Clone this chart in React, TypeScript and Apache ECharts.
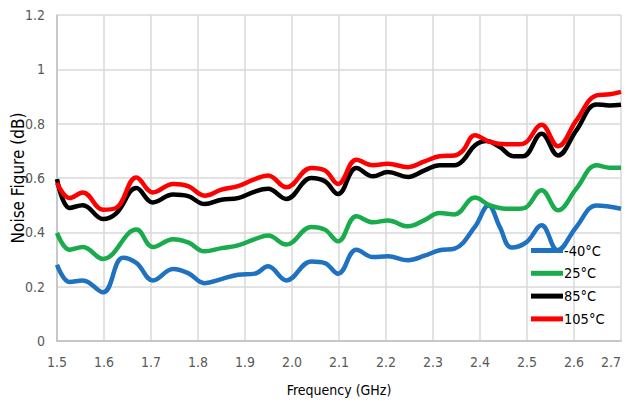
import React, { useEffect, useRef } from "react";
import * as echarts from "echarts";

const xTicks = [1.5, 1.6, 1.7, 1.8, 1.9, 2.0, 2.1, 2.2, 2.3, 2.4, 2.5, 2.6, 2.7];

const seriesNames = ["-40°C", "25°C", "85°C", "105°C"];
const seriesColors = ["#1f72c0", "#1aab4d", "#000000", "#ff0000"];

const freqM40 = [1.5, 1.527, 1.555, 1.598, 1.64, 1.669, 1.704, 1.747, 1.779, 1.814, 1.85, 1.885, 1.921, 1.949, 1.988, 2.041, 2.07, 2.098, 2.137, 2.172, 2.204, 2.247, 2.282, 2.314, 2.346, 2.389, 2.418, 2.442, 2.467, 2.499, 2.531, 2.565, 2.605, 2.648, 2.7];
const nfM40 = [0.281, 0.217, 0.223, 0.179, 0.306, 0.287, 0.223, 0.265, 0.25, 0.213, 0.228, 0.244, 0.248, 0.275, 0.223, 0.293, 0.287, 0.248, 0.336, 0.309, 0.312, 0.297, 0.314, 0.334, 0.34, 0.42, 0.499, 0.42, 0.344, 0.364, 0.426, 0.334, 0.42, 0.499, 0.487];

const freq25 = [1.5, 1.527, 1.555, 1.598, 1.669, 1.704, 1.747, 1.779, 1.814, 1.85, 1.885, 1.921, 1.949, 1.988, 2.041, 2.07, 2.098, 2.137, 2.172, 2.204, 2.247, 2.282, 2.314, 2.346, 2.389, 2.421, 2.456, 2.484, 2.499, 2.531, 2.566, 2.605, 2.648, 2.676, 2.7];
const nf25 = [0.398, 0.336, 0.346, 0.302, 0.41, 0.346, 0.375, 0.363, 0.33, 0.342, 0.352, 0.375, 0.388, 0.355, 0.42, 0.41, 0.367, 0.459, 0.437, 0.444, 0.422, 0.445, 0.471, 0.466, 0.528, 0.499, 0.487, 0.487, 0.493, 0.555, 0.481, 0.561, 0.647, 0.638, 0.638];

const freq85 = [1.5, 1.527, 1.555, 1.598, 1.626, 1.669, 1.704, 1.747, 1.779, 1.814, 1.85, 1.885, 1.921, 1.949, 1.988, 2.041, 2.07, 2.098, 2.137, 2.172, 2.204, 2.247, 2.282, 2.314, 2.346, 2.364, 2.389, 2.414, 2.442, 2.471, 2.492, 2.531, 2.566, 2.605, 2.648, 2.676, 2.7];
const nf85 = [0.596, 0.49, 0.5, 0.449, 0.47, 0.563, 0.51, 0.539, 0.533, 0.504, 0.52, 0.526, 0.55, 0.56, 0.523, 0.6, 0.588, 0.541, 0.637, 0.606, 0.622, 0.604, 0.628, 0.647, 0.647, 0.665, 0.72, 0.736, 0.714, 0.68, 0.68, 0.763, 0.683, 0.775, 0.871, 0.867, 0.87];

const freq105 = [1.5, 1.527, 1.555, 1.598, 1.626, 1.669, 1.704, 1.747, 1.779, 1.814, 1.85, 1.885, 1.921, 1.949, 1.988, 2.041, 2.07, 2.098, 2.137, 2.172, 2.204, 2.247, 2.282, 2.314, 2.346, 2.364, 2.389, 2.421, 2.456, 2.484, 2.499, 2.531, 2.566, 2.605, 2.648, 2.676, 2.7];
const nf105 = [0.582, 0.526, 0.547, 0.483, 0.49, 0.602, 0.547, 0.578, 0.57, 0.535, 0.557, 0.57, 0.596, 0.609, 0.566, 0.637, 0.628, 0.578, 0.667, 0.647, 0.652, 0.64, 0.661, 0.68, 0.683, 0.702, 0.757, 0.733, 0.724, 0.724, 0.733, 0.796, 0.717, 0.812, 0.904, 0.908, 0.917];

const freqs = [freqM40, freq25, freq85, freq105];
const values = [nfM40, nf25, nf85, nf105];

const FONT = "'DejaVu Sans Condensed', 'Liberation Sans Narrow', 'Liberation Sans', Arial, sans-serif";

export default function App() {
  const ref = useRef<HTMLDivElement>(null);
  useEffect(() => {
    if (!ref.current) return;
    const chart = echarts.init(ref.current, undefined, { renderer: "svg" });
    chart.setOption({
      animation: false,
      backgroundColor: "#ffffff",
      grid: { left: 57, right: 5, top: 15, bottom: 63, outerBoundsMode: "none", containLabel: false },
      legend: {
        orient: "vertical",
        left: 526,
        top: 238,
        itemWidth: 32,
        itemHeight: 5,
        itemGap: 7.8,
        icon: "rect",
        data: seriesNames,
        textStyle: { fontFamily: FONT, fontSize: 14.5, color: "#000000", padding: [0, 0, 0, -4] },
      },
      xAxis: {
        type: "value",
        min: 1.5,
        max: 2.7,
        interval: 0.1,
        name: "Frequency (GHz)",
        nameLocation: "middle",
        nameGap: 42,
        nameMoveOverlap: false,
        nameTextStyle: { fontFamily: FONT, fontSize: 14, color: "#000000" },
        axisLine: { lineStyle: { color: "#bfbfbf", width: 1.5 } },
        axisTick: { show: false },
        axisLabel: {
          fontFamily: FONT,
          fontSize: 14,
          color: "#595959",
          margin: 14,
          alignMaxLabel: "right",
          formatter: (v: number) => {
            const t = xTicks.find((k) => Math.abs(k - v) < 1e-6);
            return t !== undefined ? t.toFixed(1) : "";
          },
        },
        splitLine: { show: true, lineStyle: { color: "#d9d9d9", width: 1.5 } },
      },
      yAxis: {
        type: "value",
        min: 0,
        max: 1.2,
        interval: 0.2,
        name: "Noise Figure (dB)",
        nameLocation: "middle",
        nameGap: 31,
        nameMoveOverlap: false,
        nameTextStyle: { fontFamily: FONT, fontSize: 17, color: "#000000" },
        axisLine: { show: true, lineStyle: { color: "#bfbfbf", width: 1.5 } },
        axisTick: { show: false },
        axisLabel: {
          fontFamily: FONT,
          fontSize: 14,
          color: "#595959",
          margin: 12,
          formatter: (v: number) => String(Math.round(v * 10) / 10),
        },
        splitLine: { show: true, lineStyle: { color: "#d9d9d9", width: 1.5 } },
      },
      series: seriesNames.map((name, i) => ({
        name,
        type: "line",
        smooth: 0.4,
        showSymbol: false,
        symbol: "none",
        color: seriesColors[i],
        lineStyle: { width: 4.5, color: seriesColors[i] },
        data: freqs[i].map((f, j) => [f, values[i][j]]),
      })),
    });
    return () => chart.dispose();
  }, []);
  return <div ref={ref} style={{ width: 626, height: 404, position: "absolute", left: 0, top: 0 }} />;
}
